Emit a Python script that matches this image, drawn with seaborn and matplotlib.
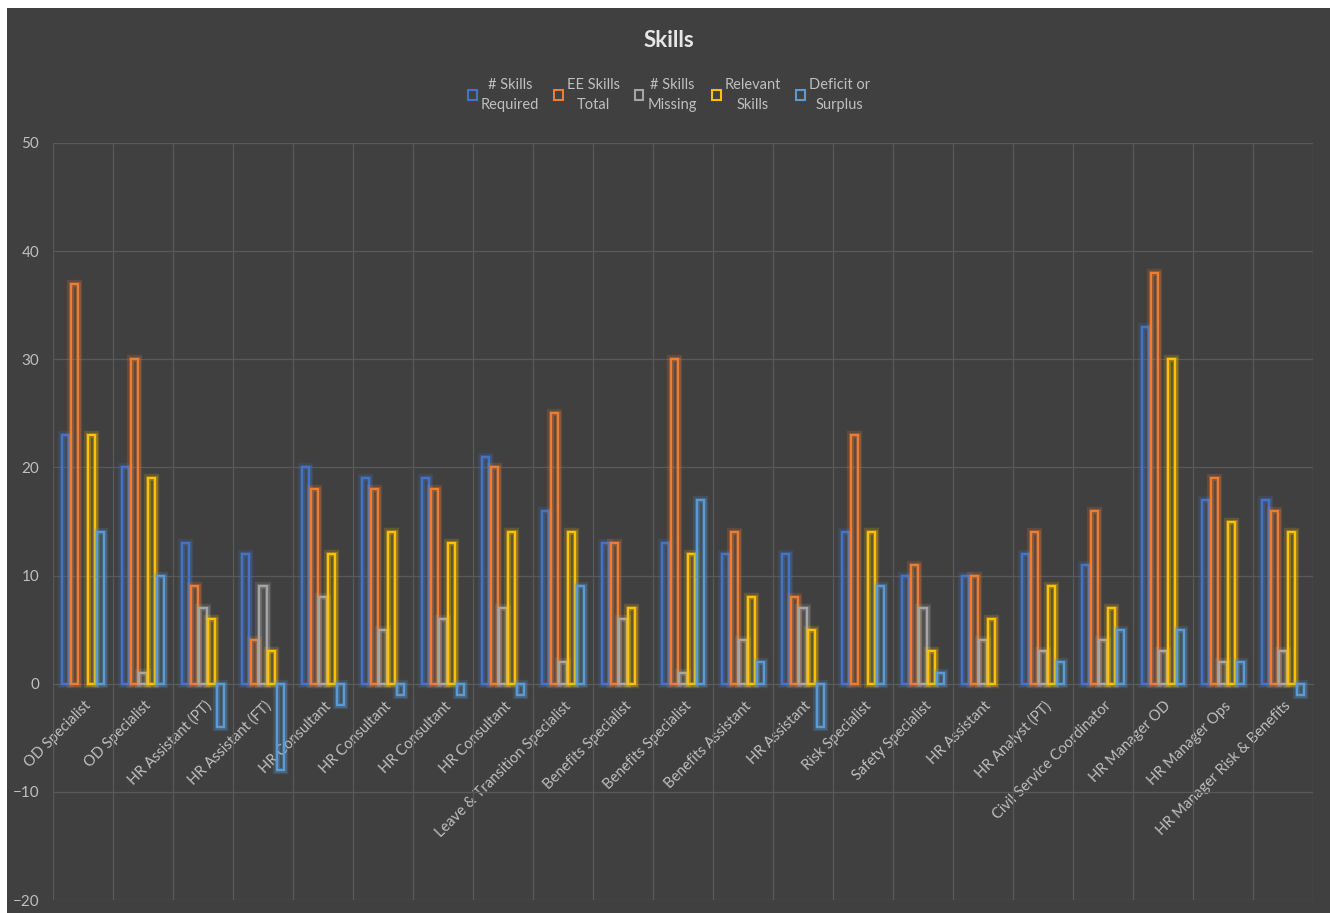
import numpy as np
import pandas as pd
import seaborn as sns
import matplotlib.pyplot as plt
import matplotlib.patheffects as pe
import matplotlib.transforms as mtransforms
from matplotlib.patches import Rectangle, Patch
from matplotlib.ticker import FixedLocator

# ---------------- data ----------------
categories = [
    "OD Specialist", "OD Specialist", "HR Assistant (PT)", "HR Assistant (FT)",
    "HR Consultant", "HR Consultant", "HR Consultant", "HR Consultant",
    "Leave & Transition Specialist", "Benefits Specialist", "Benefits Specialist",
    "Benefits Assistant", "HR Assistant", "Risk Specialist", "Safety Specialist",
    "HR Assistant", "HR Analyst (PT)", "Civil Service Coordinator",
    "HR Manager OD", "HR Manager Ops", "HR Manager Risk & Benefits",
]
skills_required = [23, 20, 13, 12, 20, 19, 19, 21, 16, 13, 13, 12, 12, 14, 10, 10, 12, 11, 33, 17, 17]
ee_skills_total = [37, 30, 9, 4, 18, 18, 18, 20, 25, 13, 30, 14, 8, 23, 11, 10, 14, 16, 38, 19, 16]
skills_missing = [0, 1, 7, 9, 8, 5, 6, 7, 2, 6, 1, 4, 7, 0, 7, 4, 3, 4, 3, 2, 3]
relevant_skills = [23, 19, 6, 3, 12, 14, 13, 14, 14, 7, 12, 8, 5, 14, 3, 6, 9, 7, 30, 15, 14]
deficit_surplus = [14, 10, -4, -8, -2, -1, -1, -1, 9, 0, 17, 2, -4, 9, 1, 0, 2, 5, 5, 2, -1]

series_labels = ["# Skills\nRequired", "EE Skills\nTotal", "# Skills\nMissing",
                 "Relevant\nSkills", "Deficit or\nSurplus"]
series_values = [skills_required, ee_skills_total, skills_missing,
                 relevant_skills, deficit_surplus]
colors = ["#4472C4", "#ED7D31", "#A5A5A5", "#FFC000", "#5B9BD5"]

y_ticks = [-20, -10, 0, 10, 20, 30, 40, 50]

rows = []
for lab, vals in zip(series_labels, series_values):
    for i, v in enumerate(vals):
        rows.append({"pos": i, "series": lab, "value": v})
df = pd.DataFrame(rows)

# ---------------- style ----------------
BG = "#404040"
GRID = "#595959"
TXT = "#bfbfbf"

sns.set_theme(style="dark")
plt.rcParams["font.family"] = ["Lato", "DejaVu Sans"]

fig = plt.figure(figsize=(13.3, 9.13), dpi=100)
fig.patch.set_facecolor("white")
fig.add_artist(Rectangle((7 / 1330, 0), 1 - 7 / 1330, 1 - 8 / 913,
                         transform=fig.transFigure, facecolor=BG,
                         edgecolor="none", zorder=-10))

ax = fig.add_axes([53 / 1330, 1 - 900 / 913, (1313 - 53) / 1330, (900 - 143) / 913])
ax.set_facecolor(BG)

sns.barplot(data=df, x="pos", y="value", hue="series", hue_order=series_labels,
            palette=colors, width=0.72, gap=0.16, fill=False, linewidth=1.6,
            errorbar=None, ax=ax, legend=False)

for p in ax.patches:
    if p.get_height() == 0:
        p.set_visible(False)
        continue
    ec = p.get_edgecolor()
    p.set_path_effects([pe.Stroke(linewidth=6, foreground=ec, alpha=0.18),
                        pe.Stroke(linewidth=3.5, foreground=ec, alpha=0.3),
                        pe.Normal()])
    p.set_zorder(3)

ax.set_ylim(-20, 50)
ax.set_xlim(-0.5, len(categories) - 0.5)
ax.set_yticks(y_ticks)
ax.set_xticks(range(len(categories)))
ax.set_xticklabels(categories)
ax.xaxis.set_minor_locator(FixedLocator(np.arange(-0.5, len(categories), 1.0)))

ax.grid(False)
ax.grid(axis="y", which="major", color=GRID, linewidth=0.9)
ax.grid(axis="x", which="minor", color=GRID, linewidth=0.9)
ax.set_axisbelow(True)

for s in ["top", "right", "left"]:
    ax.spines[s].set_visible(False)
ax.spines["bottom"].set_position(("data", 0))
ax.spines["bottom"].set_color(GRID)
ax.spines["bottom"].set_linewidth(0.9)

ax.set_xlabel("")
ax.set_ylabel("")
ax.tick_params(axis="both", which="both", length=0)
ax.tick_params(axis="y", colors=TXT, labelsize=11, pad=10)
ax.tick_params(axis="x", colors=TXT, labelsize=10.5, pad=8)

offset = mtransforms.ScaledTranslation(1 / 100, -4 / 100, fig.dpi_scale_trans)
for lbl in ax.get_xticklabels():
    lbl.set_rotation(45)
    lbl.set_ha("right")
    lbl.set_va("top")
    lbl.set_rotation_mode("anchor")
    lbl.set_transform(lbl.get_transform() + offset)

# legend
handles = [Patch(facecolor="none", edgecolor=c, linewidth=1.5) for c in colors]
leg = fig.legend(handles, series_labels, loc="center", bbox_to_anchor=(0.503, 0.896),
                 ncol=5, frameon=False, fontsize=10.5, handlelength=0.6,
                 handleheight=0.7, handletextpad=0.3, columnspacing=1.0)
for t in leg.get_texts():
    t.set_color(TXT)
    t.set_multialignment("center")
    t.set_linespacing(1.6)

fig.text(0.503, 0.956, "Skills", ha="center", va="center", fontsize=16,
         fontweight="bold", color="#e6e6e6")

fig.savefig("out.png", dpi=100, facecolor=fig.get_facecolor())
